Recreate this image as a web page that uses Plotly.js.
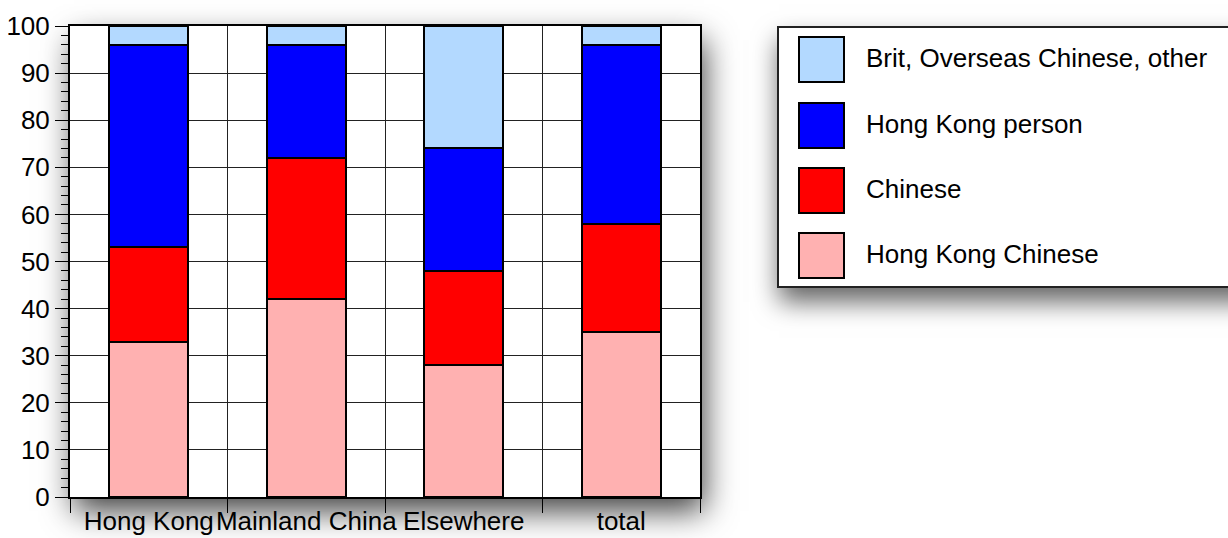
<!DOCTYPE html>
<html>
<head>
<meta charset="utf-8">
<script src="https://cdn.plot.ly/plotly-3.0.1.min.js"></script>
<style>
  html, body { margin: 0; padding: 0; background: #ffffff; width: 1228px; height: 538px; overflow: hidden; }
  #plotShadow { position: absolute; left: 70px; top: 26px; width: 630px; height: 471px; background: #fff;
    box-shadow: 4px 14px 30px rgba(0,0,0,0.75); }
  #legendBox { position: absolute; left: 777px; top: 26px; width: 480px; height: 258px; background: #fff;
    border: 2px solid #222; box-shadow: 2px 14px 24px rgba(0,0,0,0.6); }
  #chart { position: absolute; left: 0; top: 0; width: 1228px; height: 538px; }
</style>
</head>
<body>
<div id="plotShadow"></div>
<div id="legendBox"></div>
<div id="chart"></div>
<script>
// ---- data ----
const categories = ["Hong Kong", "Mainland China", "Elsewhere", "total"];
const seriesNames = ["Hong Kong Chinese", "Chinese", "Hong Kong person", "Brit, Overseas Chinese, other"];
const hkChinese   = [33, 42, 28, 35];
const chinese     = [20, 30, 20, 23];
const hkPerson    = [43, 24, 26, 38];
const otherIdent  = [4, 4, 26, 4];
const yTickVals   = [0, 10, 20, 30, 40, 50, 60, 70, 80, 90, 100];

// ---- style ----
const seriesColors = ["#ffb1b1", "#ff0000", "#0000ff", "#b3d9ff"];
const FONT = "Liberation Sans, Arial, Helvetica, sans-serif";
const FS = 26;

const seriesValues = [hkChinese, chinese, hkPerson, otherIdent];

const traces = seriesValues.map((vals, i) => ({
  type: "bar",
  x: categories,
  y: vals,
  name: seriesNames[i],
  width: 0.5,
  marker: { color: seriesColors[i], line: { color: "#000", width: 2 } },
  hoverinfo: "x+y+name"
}));

// plot area in pixels
const L = 70, T = 26, W = 630, H = 471;
const px = (x) => (x - L) / W;
const py = (y) => (T + H - y) / H;

// custom legend (top entry = last series)
const shapes = [];
const annotations = [];
const swTop = [37, 103, 168, 233];
for (let k = 0; k < seriesNames.length; k++) {
  const i = seriesNames.length - 1 - k;
  shapes.push({
    type: "rect", xref: "paper", yref: "paper",
    x0: px(799), x1: px(844), y0: py(swTop[k] + 45), y1: py(swTop[k]),
    fillcolor: seriesColors[i], line: { color: "#000", width: 2 }
  });
  annotations.push({
    xref: "paper", yref: "paper", x: px(864), y: py(swTop[k] + 21),
    xanchor: "left", yanchor: "middle", showarrow: false,
    text: seriesNames[i], font: { family: FONT, size: FS, color: "#000" }
  });
}

const layout = {
  width: 1228, height: 538,
  margin: { l: L, r: 1228 - L - W, t: T, b: 538 - T - H, pad: 0 },
  paper_bgcolor: "rgba(0,0,0,0)",
  plot_bgcolor: "#ffffff",
  barmode: "stack",
  bargap: 0.5,
  showlegend: false,
  font: { family: FONT, size: FS, color: "#000" },
  xaxis: {
    type: "category",
    tickson: "boundaries",
    ticks: "outside", ticklen: 14, tickwidth: 1, tickcolor: "#000",
    tickangle: 0,
    ticklabelstandoff: 0,
    showgrid: true, gridcolor: "#222", gridwidth: 1,
    showline: true, linecolor: "#000", linewidth: 2, mirror: true,
    tickfont: { family: FONT, size: FS, color: "#000" },
    fixedrange: true
  },
  yaxis: {
    range: [0, 100],
    tickvals: yTickVals,
    ticks: "outside", ticklen: 13, tickwidth: 1, tickcolor: "#000",
    minor: { dtick: 2, ticks: "outside", ticklen: 7, tickwidth: 1, tickcolor: "#000", showgrid: false },
    showgrid: true, gridcolor: "#222", gridwidth: 1,
    zeroline: false,
    showline: true, linecolor: "#000", linewidth: 2, mirror: true,
    tickfont: { family: FONT, size: FS, color: "#000" },
    fixedrange: true
  },
  shapes: shapes,
  annotations: annotations
};

Plotly.newPlot("chart", traces, layout, { displayModeBar: false, staticPlot: true });
</script>
</body>
</html>
